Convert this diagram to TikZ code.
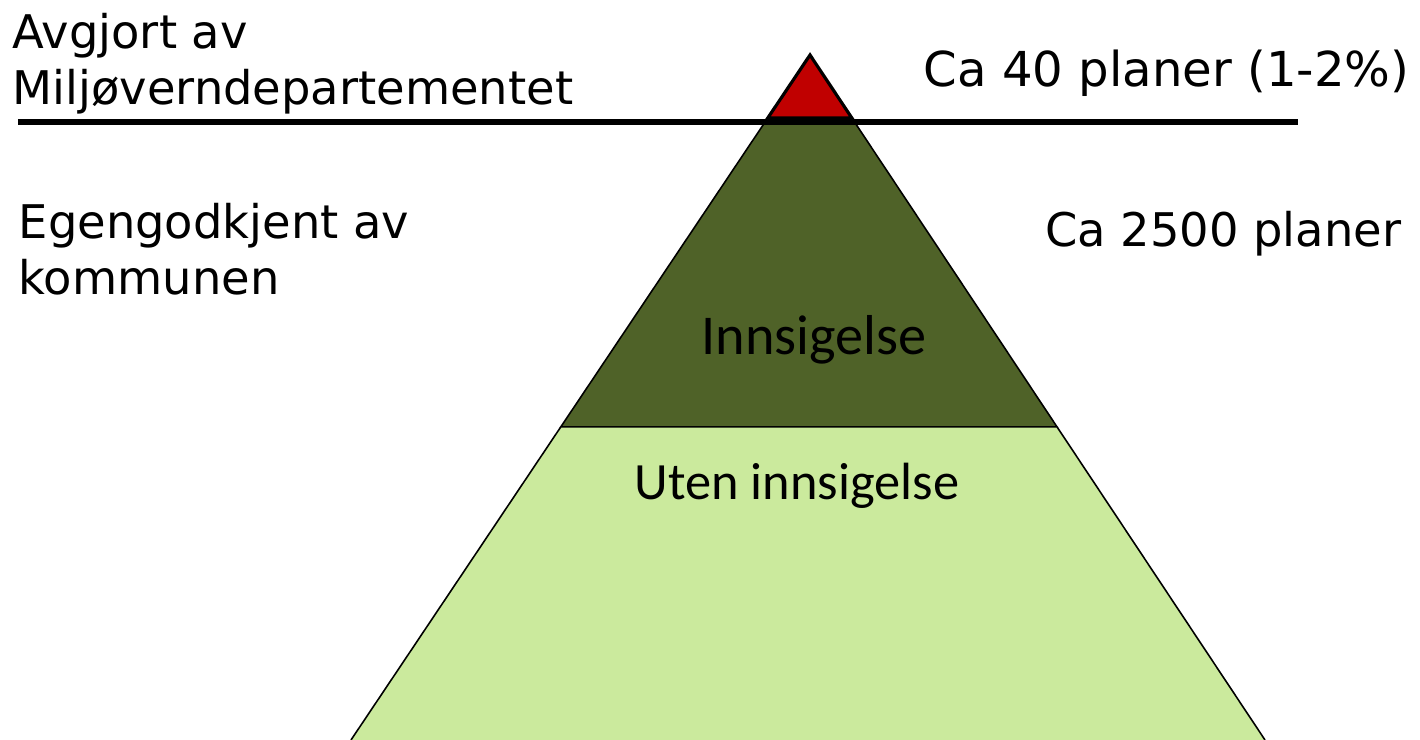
\documentclass[tikz,border=0pt]{standalone}
\usepackage{fontspec}
\newfontfamily\sidefont{DejaVu Sans}
\newfontfamily\tierfont{Carlito}
\usetikzlibrary{calc}

\definecolor{topred}{HTML}{C00000}
\definecolor{midgreen}{HTML}{4F6228}
\definecolor{lowgreen}{HTML}{CBEA9D}

\tikzset{
    sidetext/.style={inner sep=0pt, align=left, font=\sidefont\fontsize{13.2}{15.8}\selectfont},
    tiertext/.style={inner sep=0pt, font=\tierfont},
    tier/.style={draw=black, line width=0.45pt, line join=miter}
}

\begin{document}
\begin{tikzpicture}
            \useasboundingbox (0,0) rectangle (14.2,7.4);

            % Pyramid corners
            \coordinate (apex) at (8.10,6.85);
            \coordinate (bl) at (3.51,0);
            \coordinate (br) at (12.65,0);
            \coordinate (tl) at ($(apex)!0.092!(bl)$);
            \coordinate (tr) at ($(apex)!0.092!(br)$);
            \coordinate (ml) at ($(apex)!0.543!(bl)$);
            \coordinate (mr) at ($(apex)!0.543!(br)$);

            % Bottom tier
            \fill[lowgreen] (ml) -- (mr) -- (br) -- (bl) -- cycle;
            \draw[tier] (ml) -- (bl) (mr) -- (br);
            % Middle tier
            \filldraw[tier, fill=midgreen] (tl) -- (tr) -- (mr) -- (ml) -- cycle;
            % Top tier
            \filldraw[fill=topred, draw=black, line width=0.9pt] (apex) -- (tr) -- (tl) -- cycle;

            % Dividing line
            \coordinate (lineL) at (0.18,6.18);
            \coordinate (lineR) at (12.98,6.18);
            \draw[line width=1.7pt] (lineL) -- (lineR);

            % Tier labels
            \node[tiertext, font=\tierfont\fontsize{16}{19}\selectfont, anchor=base] (innsigelse) at (8.14,3.85) {Innsigelse};
            \node[tiertext, font=\tierfont\fontsize{14.9}{18}\selectfont, anchor=base] (uten) at (7.97,2.40) {Uten innsigelse};

            % Side labels
            \node[sidetext, anchor=north west] (avgjort) at (0.12,7.27) {Avgjort av\\Miljøverndepartementet};
            \node[sidetext, anchor=north west] (egen) at (0.18,5.37) {Egengodkjent av\\kommunen};
            \node[sidetext, font=\sidefont\fontsize{13.7}{16}\selectfont, anchor=base east] (ca40) at (14.10,6.53) {Ca 40 planer (1-2\%)};
            \node[sidetext, anchor=base east] (ca2500) at (14.02,4.93) {Ca 2500 planer};
        \end{tikzpicture}
\end{document}
